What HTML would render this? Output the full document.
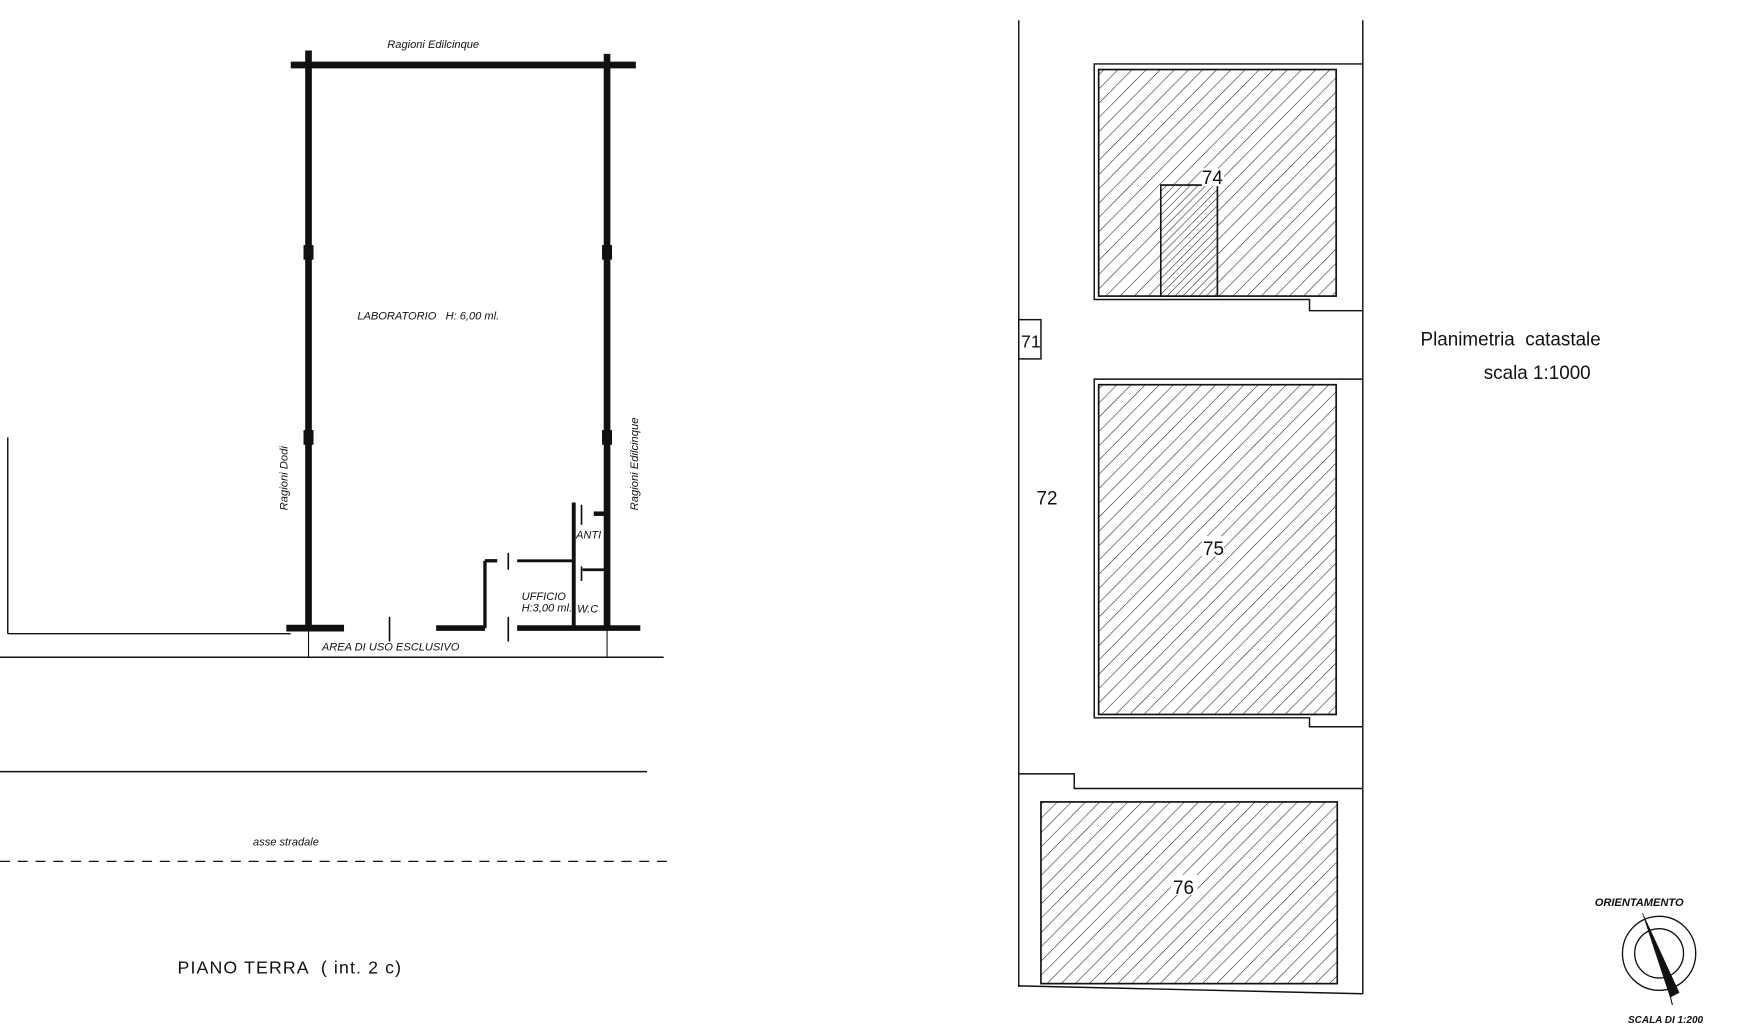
<!DOCTYPE html>
<html><head><meta charset="utf-8"><style>
html,body{margin:0;padding:0;background:#fff;}
svg{display:block;}
text{font-family:"Liberation Sans",sans-serif;fill:#111;}
.h{font-style:italic;font-size:10px;}
</style></head><body>
<svg width="1739" height="1024" viewBox="0 0 1567 913" preserveAspectRatio="none">
<defs>
<pattern id="hp" width="9" height="9" patternUnits="userSpaceOnUse" patternTransform="rotate(45)">
<line x1="0" y1="0" x2="0" y2="9" stroke="#222" stroke-width="1"/></pattern>
<pattern id="hp2" width="5" height="5" patternUnits="userSpaceOnUse" patternTransform="rotate(45)">
<line x1="0" y1="0" x2="0" y2="5" stroke="#222" stroke-width="1"/></pattern>
</defs>
<g stroke="#111" fill="none">
<line x1="262" y1="58" x2="573" y2="58" stroke-width="6"/>
<line x1="278" y1="45" x2="278" y2="562" stroke-width="6"/>
<line x1="547" y1="48" x2="547" y2="562" stroke-width="6"/>
<rect x="274" y="219" width="8" height="12" fill="#111"/>
<rect x="274" y="384" width="8" height="12" fill="#111"/>
<rect x="543" y="219" width="8" height="12" fill="#111"/>
<rect x="543" y="384" width="8" height="12" fill="#111"/>
<line x1="258" y1="560" x2="310" y2="560" stroke-width="6"/>
<line x1="393" y1="560" x2="437" y2="560" stroke-width="5"/>
<line x1="466" y1="560" x2="577" y2="560" stroke-width="5"/>
<line x1="351" y1="550" x2="351" y2="572" stroke-width="1.5"/>
<line x1="458" y1="550" x2="458" y2="572" stroke-width="1.5"/>
<line x1="458" y1="493" x2="458" y2="508" stroke-width="1.5"/>
<line x1="437" y1="500" x2="437" y2="560" stroke-width="3"/>
<line x1="437" y1="500" x2="448" y2="500" stroke-width="3"/>
<line x1="466" y1="500" x2="517" y2="500" stroke-width="2.5"/>
<line x1="517" y1="448" x2="517" y2="560" stroke-width="3.5"/>
<line x1="535" y1="458" x2="547" y2="458" stroke-width="4"/>
<line x1="525" y1="508" x2="547" y2="508" stroke-width="2.5"/>
<line x1="524" y1="450" x2="524" y2="468" stroke-width="1.5"/>
<line x1="524" y1="505" x2="524" y2="518" stroke-width="1.5"/>
<line x1="7" y1="390" x2="7" y2="565" stroke-width="1.3"/>
<line x1="7" y1="565" x2="262" y2="565" stroke-width="1.3"/>
<line x1="0" y1="586" x2="598" y2="586" stroke-width="1.3"/>
<line x1="278" y1="562" x2="278" y2="586" stroke-width="1"/>
<line x1="547" y1="562" x2="547" y2="586" stroke-width="1"/>
<line x1="0" y1="688" x2="583" y2="688" stroke-width="1.3"/>
<line x1="0" y1="768" x2="605" y2="768" stroke-width="1.2" stroke-dasharray="9,7"/>
<line x1="918" y1="18" x2="918" y2="880" stroke-width="1.3"/>
<line x1="1228" y1="18" x2="1228" y2="886" stroke-width="1.3"/>
<line x1="918" y1="879" x2="1228" y2="886" stroke-width="1.3"/>
<polyline points="1228,57 986,57 986,267 1180,267 1180,277 1228,277" stroke-width="1.3"/>
<rect x="990" y="62" width="214" height="202" fill="url(#hp)" stroke-width="1.5"/>
<rect x="1046" y="165" width="51" height="99" fill="#fff" stroke-width="1.3"/>
<rect x="1046" y="165" width="51" height="99" fill="url(#hp2)" stroke-width="1.3"/>
<rect x="918" y="285" width="20" height="35" stroke-width="1.3" fill="#fff"/>
<polyline points="1228,338 986,338 986,640 1180,640 1180,648 1228,648" stroke-width="1.3"/>
<rect x="990" y="343" width="214" height="294" fill="url(#hp)" stroke-width="1.5"/>
<polyline points="918,690 968,690 968,703 1228,703" stroke-width="1.3"/>
<rect x="938" y="715" width="267" height="162" fill="url(#hp)" stroke-width="1.5"/>
<circle cx="1495" cy="850" r="33" stroke-width="1.2"/>
<circle cx="1495" cy="850" r="22" stroke-width="1.2"/>
<polygon points="1480,814 1513,885 1505,889" fill="#111" stroke-width="0.5"/>
<line x1="1505" y1="888" x2="1507" y2="896" stroke-width="1"/>
</g>
<rect x="1083" y="150" width="20" height="16" fill="#fff"/>
<rect x="1083" y="478" width="20" height="18" fill="#fff"/>
<rect x="1055" y="780" width="24" height="18" fill="#fff"/>
<g font-size="16" style="font-family:'DejaVu Sans Condensed','DejaVu Sans',sans-serif;font-weight:200">
<text x="1083" y="164" font-size="17">74</text>
<text x="920" y="310" font-size="16">71</text>
<text x="934" y="450" font-size="17">72</text>
<text x="1084" y="495" font-size="17">75</text>
<text x="1057" y="797" font-size="17">76</text>
<text x="1280" y="308" font-size="17">Planimetria &#160;catastale</text>
<text x="1337" y="338" font-size="17">scala 1:1000</text>
<text x="160" y="868" font-size="16" letter-spacing="1">PIANO TERRA &#160;( int. 2 c)</text>
</g>
<text class="h" x="349" y="43">Ragioni Edilcinque</text>
<text class="h" x="322" y="285" font-size="11">LABORATORIO &#160; H: 6,00 ml.</text>
<text class="h" transform="translate(259,455) rotate(-90)">Ragioni Dodi</text>
<text class="h" transform="translate(575,455) rotate(-90)">Ragioni Edilcinque</text>
<text class="h" x="290" y="580" font-size="9">AREA DI USO ESCLUSIVO</text>
<text class="h" x="470" y="535" font-size="9">UFFICIO</text>
<text class="h" x="470" y="545" font-size="9">H:3,00 ml.</text>
<text class="h" x="519" y="480" font-size="8">ANTI</text>
<text class="h" x="520" y="546" font-size="9">W.C</text>
<text class="h" x="228" y="754" font-size="13">asse stradale</text>
<text x="1437" y="808" font-size="10" font-style="italic" font-weight="bold">ORIENTAMENTO</text>
<text x="1467" y="912" font-size="9" font-style="italic" font-weight="bold">SCALA DI 1:200</text>
</svg>
</body></html>
